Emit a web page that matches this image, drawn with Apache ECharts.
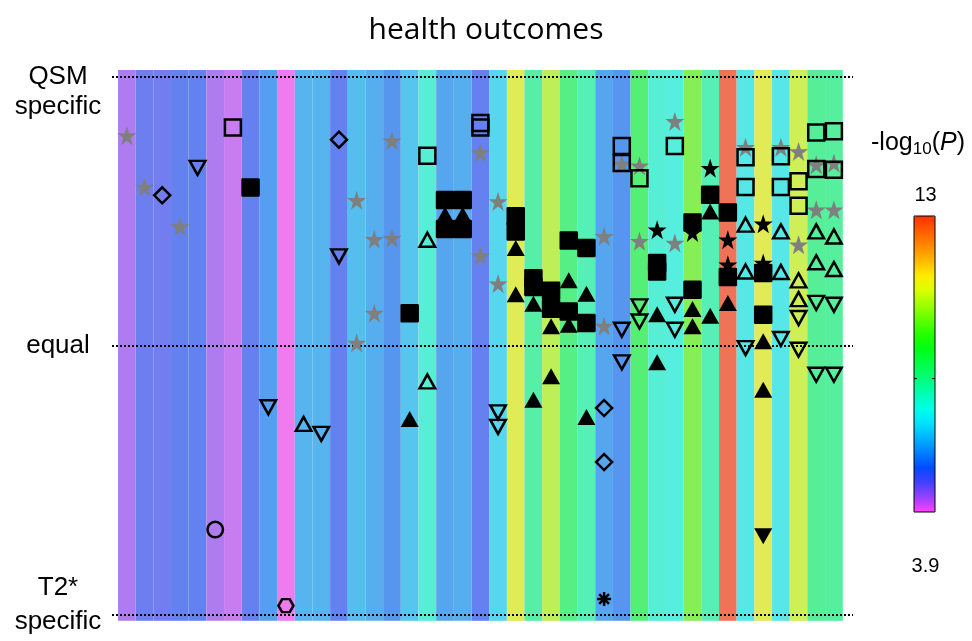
<!DOCTYPE html>
<html>
<head>
<meta charset="utf-8">
<script src="https://cdn.jsdelivr.net/npm/echarts@6/dist/echarts.min.js"></script>
<style>
  html, body { margin: 0; padding: 0; background: #fff; }
  #chart { width: 972px; height: 641px; }
</style>
</head>
<body>
<div id="chart"></div>
<script>
// -log10(P) of each outcome column (left to right)
const COLUMN_LOGP = [4.38, 5.0, 4.95, 5.11, 5.11, 4.38, 4.2, 5.1, 5.65, 3.9,
  5.99, 5.99, 5.1, 6.12, 5.88, 5.54, 6.25, 7.25, 5.77, 5.88,
  5.1, 6.5, 10.89, 7.9, 10.38, 8.38, 7.69, 5.77, 5.54, 8.61,
  7.25, 7.13, 9.69, 7.69, 13.0, 6.9, 10.89, 6.9, 10.59, 8.13, 8.02];

// y-axis: -1 = T2* specific, 0 = equal, 1 = QSM specific
const Y_TICKS = {
  '-1': '{b|T2*}\n{b|specific}\n{s| }',
  '0': '{e|equal}',
  '1': '{s2| }\n{q|QSM}\n{q|specific}'
};
const LOGP_MIN = 3.9, LOGP_MAX = 13, LOGP_MID_TICK = 8;

// markers: [column, specificity]
const GRAY_STAR = [[0,0.78],[1,0.589],[3,0.442],[13,0.54],[13,0.009],[14,0.395],[14,0.12],
  [15,0.761],[15,0.399],[20,0.717],[20,0.333],[21,0.535],[21,0.229],[27,0.406],[27,0.072],
  [28,0.675],[29,0.668],[29,0.387],[31,0.833],[31,0.381],[35,0.737],[37,0.737],[38,0.721],
  [38,0.374],[39,0.672],[40,0.678],[39,0.504],[40,0.504]];
const BLACK_STAR = [[30,0.43],[32,0.42],[33,0.659],[34,0.393],[34,0.3],[36,0.452],[36,0.306]];
const OPEN_SQUARE = [[6,0.81],[17,0.705],[20,0.827],[20,0.81],[28,0.742],[28,0.678],[29,0.622],
  [31,0.742],[35,0.7],[35,0.589],[37,0.703],[37,0.589],[38,0.61],[38,0.519],[39,0.792],
  [39,0.656],[40,0.796],[40,0.653]];
const FILLED_SQUARE = [[7,0.587],[16,0.12],[18,0.541],[18,0.433],[19,0.541],[19,0.433],
  [22,0.48],[22,0.424],[23,0.25],[23,0.217],[24,0.203],[24,0.136],[25,0.39],[25,0.126],
  [26,0.362],[26,0.083],[30,0.306],[30,0.275],[32,0.457],[32,0.207],[33,0.56],[34,0.494],
  [34,0.254],[36,0.269],[36,0.114]];
const OPEN_TRI_UP = [[10,-0.292],[17,0.393],[17,-0.134],[35,0.449],[35,0.275],[37,0.424],
  [37,0.273],[38,0.242],[38,0.172],[39,0.424],[39,0.309],[40,0.405],[40,0.284]];
const FILLED_TRI_UP = [[16,-0.274],[18,0.486],[19,0.486],[22,0.362],[22,0.19],[23,0.155],
  [23,-0.202],[24,0.071],[24,-0.115],[25,0.242],[25,0.077],[26,0.192],[26,-0.266],
  [30,0.116],[30,-0.063],[32,0.135],[32,0.071],[33,0.498],[33,0.11],[34,0.158],
  [36,0.015],[36,-0.165]];
const OPEN_TRI_DOWN = [[4,0.66],[8,-0.23],[11,-0.329],[12,0.331],[21,-0.249],[21,-0.303],
  [28,0.058],[28,-0.063],[29,0.145],[29,0.089],[31,0.151],[31,0.058],[35,-0.01],[37,0.024],
  [38,0.102],[38,-0.016],[39,0.158],[39,-0.109],[40,0.151],[40,-0.109]];
const FILLED_TRI_DOWN = [[36,-0.71]];
const OPEN_DIAMOND = [[2,0.558],[12,0.765],[27,-0.233],[27,-0.434]];
const OPEN_CIRCLE = [[5,-0.685]];
const OPEN_HEXAGON = [[9,-0.968]];
const ASTERISK = [[27,-0.943]];

const STAR_PATH = 'path://M50,0 L61.8,35.1 L98.9,35.1 L69,57.3 L79.4,92.7 L50,71 L20.6,92.7 L31,57.3 L1.1,35.1 L38.2,35.1 Z';
const HEX_PATH = 'path://M25,0 L75,0 L100,43 L75,86 L25,86 L0,43 Z';
const ASTERISK_PATH = 'path://M50,0 L50,100 M0,50 L100,50 M15,15 L85,85 M15,85 L85,15';

const STRIP_EXTENT = 1.024;   // strips run slightly past the outer dotted lines

const chart = echarts.init(document.getElementById('chart'), null, { renderer: 'canvas' });

const openStyle = { color: 'rgba(0,0,0,0)', borderColor: '#000', borderWidth: 2.5, opacity: 1 };
const filledStyle = { color: '#000', opacity: 1 };
// filled squares: stroke with round joins gives the softly rounded corners
const filledSquareStyle = { color: '#000', borderColor: '#000', borderWidth: 2.5,
  borderJoin: 'round', opacity: 1 };

function markers(name, data, symbol, size, style, rotate) {
  return {
    name: name, type: 'scatter', data: data, symbol: symbol, symbolSize: size,
    symbolRotate: rotate || 0, itemStyle: style, clip: false, z: 6,
    silent: true, animation: false
  };
}

// colour stops of the -log10(P) scale (magenta → blue → cyan → green → yellow → red)
const SCALE_COLORS = ['#ff40ff','#9940ff','#4240ff','#004bff','#0080ff','#00b3ff','#00e2ff',
  '#00ffe9','#00ffb2','#00ff7b','#00ff48','#00ff14','#24ff00','#61ff00','#9eff00','#dbff00',
  '#ffeb00','#ffb700','#ff8800','#ff5c00','#ff3000'];

const labelFont = { fontFamily: 'Liberation Sans', fontSize: 26, color: '#000' };

const option = {
  animation: false,
  backgroundColor: '#fff',
  title: {
    text: 'health outcomes', left: 'center', top: 10,
    textStyle: { fontFamily: 'Open Sans', fontSize: 30, fontWeight: 'normal', color: '#000' }
  },
  grid: { left: 112, right: 119, top: 76.5, bottom: 26.7, outerBoundsMode: 'none', containLabel: false },
  xAxis: { type: 'value', min: -0.84, max: 41.08, show: false },
  yAxis: {
    type: 'value', min: -1, max: 1, interval: 1, z: 5,
    axisLine: { show: false }, axisTick: { show: false },
    splitLine: { show: true, lineStyle: { color: '#000', width: 2, type: [2, 2] } },
    axisLabel: {
      formatter: v => Y_TICKS[String(v)] || '',
      fontFamily: 'Liberation Sans', fontSize: 26, color: '#000',
      align: 'center', margin: 54,
      rich: {
        q: Object.assign({ lineHeight: 30, align: 'center' }, labelFont),
        e: Object.assign({ lineHeight: 30, align: 'center' }, labelFont),
        b: Object.assign({ lineHeight: 34, align: 'center' }, labelFont),
        s: { lineHeight: 18, fontSize: 10 },
        s2: { lineHeight: 30, fontSize: 10 }
      }
    }
  },
  visualMap: {
    type: 'continuous', min: LOGP_MIN, max: LOGP_MAX, seriesIndex: 0, dimension: 1,
    left: 914, top: 216, itemWidth: 21, itemHeight: 296, padding: 0,
    calculable: false, hoverLink: false,
    inRange: { color: SCALE_COLORS }
  },
  graphic: [
    { type: 'rect', shape: { x: 914, y: 216, width: 21, height: 296 },
      style: { fill: 'none', stroke: '#000', lineWidth: 1 }, z: 100 },
    { type: 'line', shape: { x1: 914, y1: 0, x2: 917, y2: 0 }, id: 'tickL',
      style: { stroke: '#000', lineWidth: 1 }, z: 100 },
    { type: 'line', shape: { x1: 932, y1: 0, x2: 935, y2: 0 }, id: 'tickR',
      style: { stroke: '#000', lineWidth: 1 }, z: 100 },
    { type: 'text', x: 925.5, y: 195, style: { text: String(LOGP_MAX), fill: '#000',
      font: '20px "Liberation Sans"', align: 'center', verticalAlign: 'middle' } },
    { type: 'text', x: 925.5, y: 566, style: { text: String(LOGP_MIN), fill: '#000',
      font: '20px "Liberation Sans"', align: 'center', verticalAlign: 'middle' } },
    { type: 'text', x: 918, y: 143, style: {
      text: '-log{sub|10}({it|P})', fill: '#000', align: 'center', verticalAlign: 'middle',
      fontFamily: 'Liberation Sans', fontSize: 25,
      rich: {
        sub: { fontFamily: 'Liberation Sans', fontSize: 17, padding: [12, 0, 0, 0] },
        it: { fontFamily: 'Liberation Sans', fontSize: 25, fontStyle: 'italic' }
      } } }
  ],
  series: [
    {
      type: 'custom', name: 'strips', z: 1, silent: true,
      data: COLUMN_LOGP.map((v, i) => [i, v]),
      encode: { x: 0, y: -1 },
      renderItem: function (params, api) {
        const i = api.value(0);
        const p0 = api.coord([i - 0.5, STRIP_EXTENT]);
        const p1 = api.coord([i + 0.5, -STRIP_EXTENT]);
        const shape = { x: p0[0], y: p0[1], width: p1[0] - p0[0], height: p1[1] - p0[1] };
        return { type: 'group', children: [
          { type: 'rect', shape: shape, style: { fill: '#d8d8d8' } },
          { type: 'rect', shape: shape, style: { fill: api.visual('color'), opacity: 0.6 } }
        ] };
      }
    },
    markers('gray star', GRAY_STAR, STAR_PATH, 19, { color: '#7f7f7f', opacity: 1 }),
    markers('black star', BLACK_STAR, STAR_PATH, 19, filledStyle),
    markers('open square', OPEN_SQUARE, 'rect', 16, openStyle),
    markers('filled square', FILLED_SQUARE, 'rect', 16, filledSquareStyle),
    markers('open triangle', OPEN_TRI_UP, 'triangle', [15.5, 14], openStyle),
    markers('filled triangle', FILLED_TRI_UP, 'triangle', [18, 16], filledStyle),
    markers('open inverted triangle', OPEN_TRI_DOWN, 'triangle', [15.5, 14], openStyle, 180),
    markers('filled inverted triangle', FILLED_TRI_DOWN, 'triangle', [18, 16], filledStyle, 180),
    markers('diamond', OPEN_DIAMOND, 'diamond', 16, openStyle),
    markers('circle', OPEN_CIRCLE, 'circle', 15.5, openStyle),
    markers('hexagon', OPEN_HEXAGON, HEX_PATH, [15, 13], openStyle),
    markers('asterisk', ASTERISK, ASTERISK_PATH, 14, openStyle)
  ]
};

chart.setOption(option);

// place the mid-scale ticks on the colour bar
const tickY = 216 + 296 * (1 - (LOGP_MID_TICK - LOGP_MIN) / (LOGP_MAX - LOGP_MIN));
chart.setOption({ graphic: [
  { id: 'tickL', shape: { y1: tickY, y2: tickY } },
  { id: 'tickR', shape: { y1: tickY, y2: tickY } }
] });
</script>
</body>
</html>
